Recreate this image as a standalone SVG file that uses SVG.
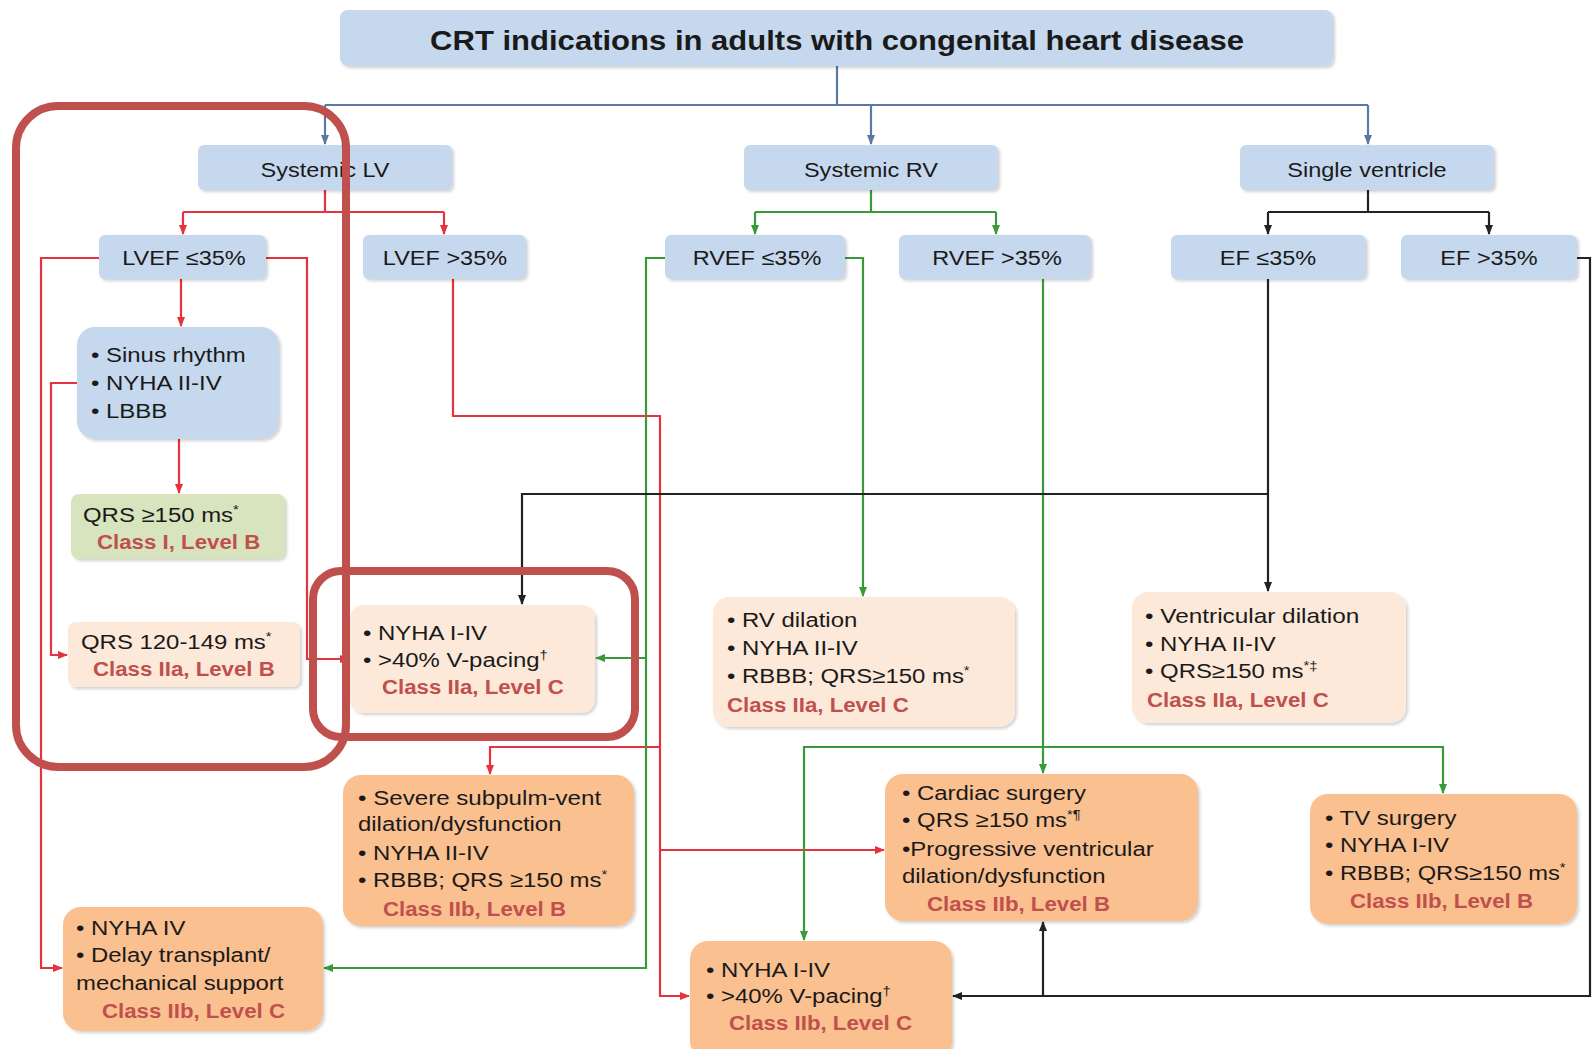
<svg xmlns="http://www.w3.org/2000/svg" width="1592" height="1049" viewBox="0 0 1592 1049">
<defs>
<style>
.t{font-family:"Liberation Sans",Arial,sans-serif;font-size:21px;fill:#1a1a1a}
.c{text-anchor:middle}
.cl{font-family:"Liberation Sans",Arial,sans-serif;font-size:21px;fill:#c0504d;font-weight:bold}
.sup{font-size:13px}
.blue{fill:#c6d8ee}
.green{fill:#d7e4bd}
.peach{fill:#fde9d9}
.orange{fill:#fac090}
.cr{fill:none;stroke:#e5323c;stroke-width:2.2}
.cg{fill:none;stroke:#3a9a3a;stroke-width:2.2}
.ck{fill:none;stroke:#222;stroke-width:2.2}
.cb{fill:none;stroke:#5b7aa3;stroke-width:2.2}
.hl{fill:none;stroke:#c0504d;stroke-width:8}
</style>
<filter id="sh" x="-5%" y="-5%" width="112%" height="115%">
<feDropShadow dx="2" dy="2" stdDeviation="1.5" flood-color="#000" flood-opacity="0.18"/>
</filter>
<marker id="ar" markerWidth="10" markerHeight="10" refX="9" refY="5" orient="auto" markerUnits="userSpaceOnUse"><path d="M0,1 L10,5 L0,9 z" fill="#e5323c"/></marker>
<marker id="ag" markerWidth="10" markerHeight="10" refX="9" refY="5" orient="auto" markerUnits="userSpaceOnUse"><path d="M0,1 L10,5 L0,9 z" fill="#3a9a3a"/></marker>
<marker id="ak" markerWidth="10" markerHeight="10" refX="9" refY="5" orient="auto" markerUnits="userSpaceOnUse"><path d="M0,1 L10,5 L0,9 z" fill="#222"/></marker>
<marker id="ab" markerWidth="10" markerHeight="10" refX="9" refY="5" orient="auto" markerUnits="userSpaceOnUse"><path d="M0,1 L10,5 L0,9 z" fill="#5b7aa3"/></marker>
</defs>
<rect width="1592" height="1049" fill="#fff"/>

<g id="connectors">
<path class="cb" d="M837,66 V105"/>
<path class="cb" d="M325,105 H1368"/>
<path class="cb" d="M325,105 V144" marker-end="url(#ab)"/>
<path class="cb" d="M871,105 V144" marker-end="url(#ab)"/>
<path class="cb" d="M1368,105 V144" marker-end="url(#ab)"/>

<path class="cr" d="M325,190 V212 M183,212 H444"/>
<path class="cr" d="M183,212 V234" marker-end="url(#ar)"/>
<path class="cr" d="M444,212 V234" marker-end="url(#ar)"/>
<path class="cg" d="M871,190 V212 M755,212 H996"/>
<path class="cg" d="M755,212 V234" marker-end="url(#ag)"/>
<path class="cg" d="M996,212 V234" marker-end="url(#ag)"/>
<path class="ck" d="M1368,190 V212 M1268,212 H1489"/>
<path class="ck" d="M1268,212 V234" marker-end="url(#ak)"/>
<path class="ck" d="M1489,212 V234" marker-end="url(#ak)"/>

<path class="cr" d="M181,279 V326" marker-end="url(#ar)"/>
<path class="cr" d="M99,258 H41 V968 H62" marker-end="url(#ar)"/>
<path class="cr" d="M266,258 H307 V659 H349" marker-end="url(#ar)"/>
<path class="cr" d="M179,439 V493" marker-end="url(#ar)"/>
<path class="cr" d="M77,383 H51 V655 H67" marker-end="url(#ar)"/>

<path class="cr" d="M453,279 V416 H660 V996 H689" marker-end="url(#ar)"/>
<path class="cr" d="M660,747 H490 V774" marker-end="url(#ar)"/>
<path class="cr" d="M660,850 H884" marker-end="url(#ar)"/>

<path class="cg" d="M665,258 H646 V968 H324" marker-end="url(#ag)"/>
<path class="cg" d="M646,658 H596" marker-end="url(#ag)"/>
<path class="cg" d="M845,258 H863 V596" marker-end="url(#ag)"/>
<path class="cg" d="M1043,279 V773" marker-end="url(#ag)"/>
<path class="cg" d="M1043,747 H804 V940" marker-end="url(#ag)"/>
<path class="cg" d="M1043,747 H1443 V793" marker-end="url(#ag)"/>

<path class="ck" d="M1268,279 V591" marker-end="url(#ak)"/>
<path class="ck" d="M1268,494 H522 V604" marker-end="url(#ak)"/>
<path class="ck" d="M1577,258 H1590 V996 H953" marker-end="url(#ak)"/>
<path class="ck" d="M1043,996 V922" marker-end="url(#ak)"/>
</g>

<g id="title"><rect class="blue" x="340" y="10" width="993" height="56" rx="8" filter="url(#sh)"/>
<text class="t c" transform="translate(837 50) scale(1.15 1)" style="font-size:27px;font-weight:bold">CRT indications in adults with congenital heart disease</text></g>

<g id="systemic-lv"><rect class="blue" x="198" y="145" width="254" height="45" rx="6" filter="url(#sh)"/><text class="t c" transform="translate(325 177) scale(1.12 1)">Systemic LV</text></g>
<g id="systemic-rv"><rect class="blue" x="744" y="145" width="254" height="45" rx="6" filter="url(#sh)"/><text class="t c" transform="translate(871 177) scale(1.12 1)">Systemic RV</text></g>
<g id="single-ventricle"><rect class="blue" x="1240" y="145" width="254" height="45" rx="6" filter="url(#sh)"/><text class="t c" transform="translate(1367 177) scale(1.12 1)">Single ventricle</text></g>

<g id="lvef-low"><rect class="blue" x="99" y="235" width="167" height="44" rx="6" filter="url(#sh)"/><text class="t c" transform="translate(184 265) scale(1.12 1)">LVEF ≤35%</text></g>
<g id="lvef-high"><rect class="blue" x="363" y="235" width="163" height="44" rx="6" filter="url(#sh)"/><text class="t c" transform="translate(445 265) scale(1.12 1)">LVEF &gt;35%</text></g>
<g id="rvef-low"><rect class="blue" x="665" y="235" width="180" height="44" rx="6" filter="url(#sh)"/><text class="t c" transform="translate(757 265) scale(1.12 1)">RVEF ≤35%</text></g>
<g id="rvef-high"><rect class="blue" x="899" y="235" width="192" height="44" rx="6" filter="url(#sh)"/><text class="t c" transform="translate(997 265) scale(1.12 1)">RVEF &gt;35%</text></g>
<g id="ef-low"><rect class="blue" x="1171" y="235" width="195" height="44" rx="6" filter="url(#sh)"/><text class="t c" transform="translate(1268 265) scale(1.12 1)">EF ≤35%</text></g>
<g id="ef-high"><rect class="blue" x="1401" y="235" width="176" height="44" rx="6" filter="url(#sh)"/><text class="t c" transform="translate(1489 265) scale(1.12 1)">EF &gt;35%</text></g>

<g id="sinus"><rect class="blue" x="77" y="327" width="202" height="112" rx="18" filter="url(#sh)"/>
<text class="t" transform="translate(91 362) scale(1.14 1)">• Sinus rhythm</text>
<text class="t" transform="translate(91 390) scale(1.14 1)">• NYHA II-IV</text>
<text class="t" transform="translate(91 418) scale(1.14 1)">• LBBB</text></g>

<g id="qrs150"><rect class="green" x="71" y="494" width="214" height="65" rx="8" filter="url(#sh)"/>
<text class="t" transform="translate(83 522) scale(1.14 1)">QRS ≥150 ms<tspan class="sup" dy="-8">*</tspan></text>
<text class="cl" transform="translate(97 549) scale(1.06 1)">Class I, Level B</text></g>

<g id="qrs120"><rect class="peach" x="68" y="622" width="232" height="65" rx="8" filter="url(#sh)"/>
<text class="t" transform="translate(81 649) scale(1.14 1)">QRS 120-149 ms<tspan class="sup" dy="-8">*</tspan></text>
<text class="cl" transform="translate(93 676) scale(1.06 1)">Class IIa, Level B</text></g>

<g id="vpacing-iia"><rect class="peach" x="350" y="605" width="245" height="108" rx="14" filter="url(#sh)"/>
<text class="t" transform="translate(363 640) scale(1.14 1)">• NYHA I-IV</text>
<text class="t" transform="translate(363 667) scale(1.14 1)">• &gt;40% V-pacing<tspan class="sup" dy="-8">†</tspan></text>
<text class="cl" transform="translate(382 694) scale(1.06 1)">Class IIa, Level C</text></g>

<g id="rv-dilation"><rect class="peach" x="713" y="597" width="302" height="130" rx="16" filter="url(#sh)"/>
<text class="t" transform="translate(727 627) scale(1.14 1)">• RV dilation</text>
<text class="t" transform="translate(727 655) scale(1.14 1)">• NYHA II-IV</text>
<text class="t" transform="translate(727 683) scale(1.14 1)">• RBBB; QRS≥150 ms<tspan class="sup" dy="-8">*</tspan></text>
<text class="cl" transform="translate(727 712) scale(1.06 1)">Class IIa, Level C</text></g>

<g id="vent-dilation"><rect class="peach" x="1132" y="592" width="274" height="131" rx="16" filter="url(#sh)"/>
<text class="t" transform="translate(1145 623) scale(1.16 1)">• Ventricular dilation</text>
<text class="t" transform="translate(1145 651) scale(1.14 1)">• NYHA II-IV</text>
<text class="t" transform="translate(1145 678) scale(1.14 1)">• QRS≥150 ms<tspan class="sup" dy="-8">*‡</tspan></text>
<text class="cl" transform="translate(1147 707) scale(1.06 1)">Class IIa, Level C</text></g>

<g id="subpulm"><rect class="orange" x="343" y="775" width="291" height="151" rx="18" filter="url(#sh)"/>
<text class="t" transform="translate(358 805) scale(1.15 1)">• Severe subpulm-vent</text>
<text class="t" transform="translate(358 831) scale(1.14 1)">dilation/dysfunction</text>
<text class="t" transform="translate(358 860) scale(1.14 1)">• NYHA II-IV</text>
<text class="t" transform="translate(358 887) scale(1.14 1)">• RBBB; QRS ≥150 ms<tspan class="sup" dy="-8">*</tspan></text>
<text class="cl" transform="translate(383 916) scale(1.06 1)">Class IIb, Level B</text></g>

<g id="nyha-iv"><rect class="orange" x="63" y="907" width="260" height="124" rx="18" filter="url(#sh)"/>
<text class="t" transform="translate(76 935) scale(1.14 1)">• NYHA IV</text>
<text class="t" transform="translate(76 962) scale(1.14 1)">• Delay transplant/</text>
<text class="t" transform="translate(76 990) scale(1.14 1)">mechanical support</text>
<text class="cl" transform="translate(102 1018) scale(1.06 1)">Class IIb, Level C</text></g>

<g id="cardiac-surgery"><rect class="orange" x="885" y="774" width="313" height="147" rx="18" filter="url(#sh)"/>
<text class="t" transform="translate(902 800) scale(1.14 1)">• Cardiac surgery</text>
<text class="t" transform="translate(902 827) scale(1.14 1)">• QRS ≥150 ms<tspan class="sup" dy="-8">*¶</tspan></text>
<text class="t" transform="translate(902 856) scale(1.14 1)">•Progressive ventricular</text>
<text class="t" transform="translate(902 883) scale(1.14 1)">dilation/dysfunction</text>
<text class="cl" transform="translate(927 911) scale(1.06 1)">Class IIb, Level B</text></g>

<g id="tv-surgery"><rect class="orange" x="1310" y="794" width="267" height="130" rx="18" filter="url(#sh)"/>
<text class="t" transform="translate(1325 825) scale(1.14 1)">• TV surgery</text>
<text class="t" transform="translate(1325 852) scale(1.14 1)">• NYHA I-IV</text>
<text class="t" transform="translate(1325 880) scale(1.13 1)">• RBBB; QRS≥150 ms<tspan class="sup" dy="-8">*</tspan></text>
<text class="cl" transform="translate(1350 908) scale(1.06 1)">Class IIb, Level B</text></g>

<g id="vpacing-iib"><rect class="orange" x="690" y="941" width="262" height="118" rx="18" filter="url(#sh)"/>
<text class="t" transform="translate(706 977) scale(1.14 1)">• NYHA I-IV</text>
<text class="t" transform="translate(706 1003) scale(1.14 1)">• &gt;40% V-pacing<tspan class="sup" dy="-8">†</tspan></text>
<text class="cl" transform="translate(729 1030) scale(1.06 1)">Class IIb, Level C</text></g>

<g id="highlights">
<rect class="hl" x="16" y="106" width="330" height="661" rx="42"/>
<rect class="hl" x="313" y="571" width="322" height="166" rx="28"/>
</g>
</svg>
